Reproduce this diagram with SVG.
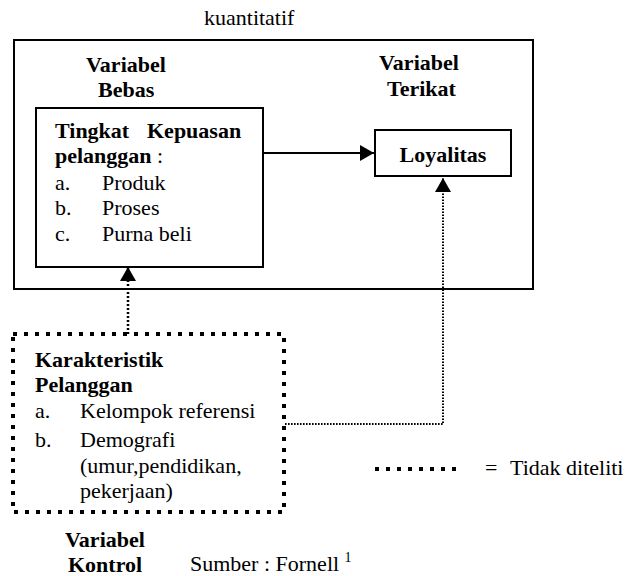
<svg xmlns="http://www.w3.org/2000/svg" width="628" height="576" viewBox="0 0 628 576" font-family="Liberation Serif, Times New Roman, serif" font-size="22">
<style>
.b{font-weight:bold}
.box{fill:none;stroke:#000;stroke-width:2}
.sq{fill:none;stroke:#000;stroke-width:4;stroke-dasharray:4 7}
.dot{fill:none;stroke:#000;stroke-width:2.5;stroke-dasharray:2 2}
.fine{fill:none;stroke:#000;stroke-width:2;stroke-dasharray:1.6 1.4}
.solid{fill:none;stroke:#000;stroke-width:2}
</style>
<defs>
<marker id="ah" viewBox="0 0 14 16" refX="14" refY="8" markerWidth="14" markerHeight="16" markerUnits="userSpaceOnUse" orient="auto">
<path d="M0,0 L14,8 L0,16 Z" fill="#000"/>
</marker>
</defs>
<rect width="628" height="576" fill="#fff"/>
<text x="204" y="25">kuantitatif</text>
<g id="frame">
<rect class="box" x="14" y="40" width="519" height="249"/>
<text class="b" x="86" y="72">Variabel</text>
<text class="b" x="98" y="97">Bebas</text>
<text class="b" x="379" y="70">Variabel</text>
<text class="b" x="387" y="96">Terikat</text>
</g>
<g id="kepuasan">
<rect class="box" x="36" y="108" width="227" height="159"/>
<text class="b" x="55" y="138">Tingkat</text>
<text class="b" x="147" y="138">Kepuasan</text>
<text x="55" y="163"><tspan class="b">pelanggan</tspan> :</text>
<text x="55" y="190">a.</text><text x="102" y="190">Produk</text>
<text x="55" y="215">b.</text><text x="102" y="215">Proses</text>
<text x="55" y="241">c.</text><text x="102" y="241">Purna beli</text>
</g>
<g id="loyalitas">
<rect class="box" x="375" y="130" width="136" height="46"/>
<text class="b" x="443" y="162" text-anchor="middle">Loyalitas</text>
</g>
<g id="karakteristik">
<rect class="sq" x="13" y="334" width="271" height="178"/>
<text class="b" x="35" y="367">Karakteristik</text>
<text class="b" x="35" y="392">Pelanggan</text>
<text x="35" y="418">a.</text><text x="80" y="418">Kelompok referensi</text>
<text x="35" y="447">b.</text><text x="80" y="447">Demografi</text>
<text x="80" y="473">(umur,pendidikan,</text>
<text x="80" y="498">pekerjaan)</text>
<text class="b" x="65" y="547">Variabel</text>
<text class="b" x="68" y="572">Kontrol</text>
</g>
<g id="connectors">
<line class="solid" x1="263" y1="153" x2="374" y2="153" marker-end="url(#ah)"/>
<line class="dot" x1="128" y1="334" x2="128" y2="267" marker-end="url(#ah)"/>
<polyline class="fine" points="285,424 443,424 443,178" marker-end="url(#ah)"/>
</g>
<g id="legend">
<line class="sq" x1="375" y1="469" x2="462" y2="469"/>
<text x="485" y="475">=</text>
<text x="510" y="475">Tidak diteliti</text>
</g>
<text x="190" y="571">Sumber : Fornell <tspan font-size="14" dy="-9">1</tspan></text>
</svg>
